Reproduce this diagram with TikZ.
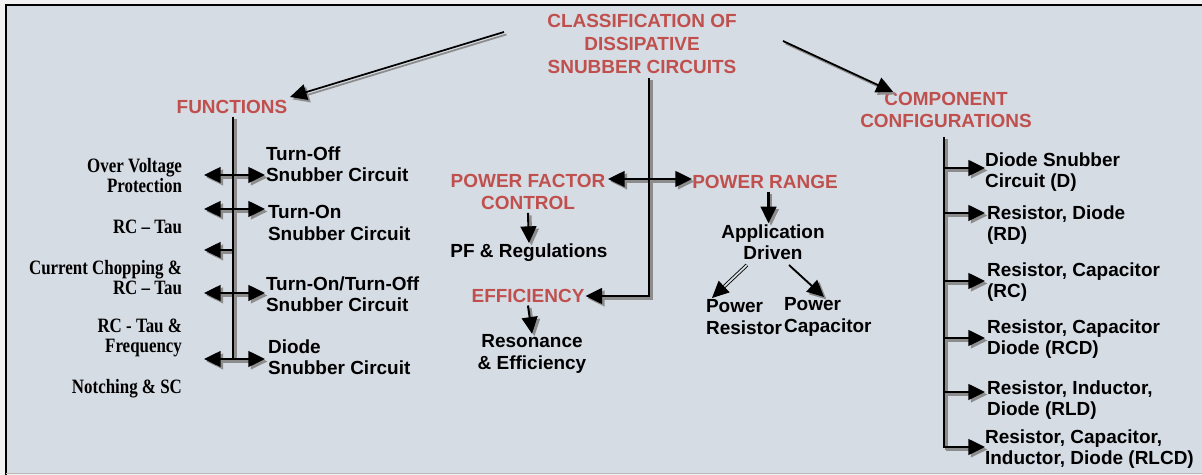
\documentclass[tikz,border=0pt]{standalone}
\usepackage{fontspec}
\setmainfont{Liberation Sans}
\newfontfamily\cambfont[FakeStretch=0.83]{Liberation Serif}
\usetikzlibrary{arrows.meta}
\definecolor{panel}{HTML}{D6DCE4}
\definecolor{headred}{HTML}{C0504D}
\colorlet{linkcol}{black}

\newcommand\drawlinks{%
  \draw[link,->,line width=1pt] (tl) -- (ftip);
  \draw[link,->,line width=1pt] (tr) -- (ctip);
  \draw[link,->] (ttop) |- ([xshift=-1pt]eff.east);
  \draw[link,<->] (pfl) -- (prl);
  \draw[link,->] (pfc.south) -- (pfreg.north);
  \draw[link,->] (eff.south) -- (reson.north);
  \draw[link,->] ([xshift=2pt]prange.south) -- ([xshift=2pt]prange.south |- appl.north);
  \draw[link,->,line width=1pt] (ar) -- (ctip2);
  \draw[link] (ftop) -- (fbot);
  \foreach \k in {a,b,c,d}{\draw[link,<->] (fl\k) -- (fr\k);}
  \draw[link,->] (fmid) -- (fle);
  \draw[link] (ctop) -- (cbot);
  \foreach \k in {a,b,c,d,e,f}{\draw[link,->] (cs\k) -- (ce\k);}
}

\begin{document}
\begin{tikzpicture}[x=0.02cm,y=-0.02cm,>={Triangle[length=9.5pt,width=9pt]},line width=1.2pt,
  head/.style={text=headred,font=\bfseries\fontsize{10.8}{13}\selectfont,align=center,inner sep=1pt},
  item/.style={font=\bfseries\fontsize{10.8}{12.2}\selectfont,align=left,inner sep=0pt},
  cause/.style={font=\cambfont\bfseries\fontsize{11.6}{11.4}\selectfont,align=right,inner sep=0pt,anchor=east},
  link/.style={draw=linkcol}]
\useasboundingbox (0,0) rectangle (1202,475);
\fill[gray!10] (0,0) rectangle (1202,475);
\fill[panel] (6,6) rectangle (1202,473);
\draw[line width=1.6pt] (6,475) -- (6,5) -- (1202,5);
\draw[gray!55,line width=0.8pt] (6,473.5) -- (1202,473.5);

\node[head] (title) at (642,44) {CLASSIFICATION OF\\DISSIPATIVE\\SNUBBER CIRCUITS};
\node[head] (func) at (232,107) {FUNCTIONS};
\node[head] (comp) at (946,110) {COMPONENT\\CONFIGURATIONS};
\node[head] (pfc) at (528,192) {POWER FACTOR\\CONTROL};
\node[head] (prange) at (765,182) {POWER RANGE};
\node[head] (eff) at (528,296) {EFFICIENCY};

\node[item,align=center] (pfreg) at (529,253) {PF \& Regulations};
\node[item,align=center] (reson) at (532,354) {Resonance\\\& Efficiency};
\node[item,align=center] (appl) at (773,242) {Application\\Driven};
\node[item,anchor=west] (pres) at (705,317) {Power\\Resistor};
\node[item,anchor=west] (pcap) at (783,317) {Power\\Capacitor};

\node[item,anchor=west] (toff) at (265,164) {Turn-Off\\Snubber Circuit};
\node[item,anchor=west] (ton) at (267,223) {Turn-On\\Snubber Circuit};
\node[item,anchor=west] (tonoff) at (265,294) {Turn-On/Turn-Off\\Snubber Circuit};
\node[item,anchor=west] (dsn) at (267,357) {Diode\\Snubber Circuit};

\node[cause] (ovp) at (183,176) {Over Voltage\\Protection};
\node[cause] (rct) at (183,227) {RC – Tau};
\node[cause] (cch) at (183,278) {Current Chopping \&\\RC – Tau};
\node[cause] (rcf) at (183,338) {RC - Tau \&\\Frequency};
\node[cause] (notch) at (183,389) {Notching \& SC};

\node[item,anchor=west] (cd) at (984,172) {Diode Snubber\\Circuit (D)};
\node[item,anchor=west] (crd) at (986,225) {Resistor, Diode\\(RD)};
\node[item,anchor=west] (crc) at (986,282) {Resistor, Capacitor\\(RC)};
\node[item,anchor=west] (crcd) at (986,339) {Resistor, Capacitor\\Diode (RCD)};
\node[item,anchor=west] (crld) at (986,400) {Resistor, Inductor,\\Diode (RLD)};
\node[item,anchor=west] (crlcd) at (984,449) {Resistor, Capacitor,\\Inductor, Diode (RLCD)};

\coordinate (tl) at (504,32);
\coordinate (tr) at (783,41);
\coordinate (ftip) at (290,97);
\coordinate (ctip) at (893,92);
\coordinate (ttop) at (649,78);
\coordinate (pfl) at (608,179);
\coordinate (prl) at (692,179);
\coordinate (al) at (747,265);
\coordinate (ar) at (789,265);
\coordinate (rtip) at (712,298);
\coordinate (ctip2) at (824,297);
\coordinate (ftop) at (233,117);
\coordinate (fbot) at (233,360);
\foreach \y/\k in {175/a,209/b,293/c,359/d}{
  \coordinate (fl\k) at (204,\y);
  \coordinate (fr\k) at (265,\y);
}
\coordinate (fmid) at (233,250);
\coordinate (fle) at (204,250);
\coordinate (ctop) at (944,137);
\coordinate (cbot) at (944,448);
\foreach \y/\k in {168/a,213/b,281/c,338/d,392/e,447/f}{
  \coordinate (cs\k) at (944,\y);
  \coordinate (ce\k) at (985,\y);
}

\begin{scope}[transform canvas={xshift=1.4pt,yshift=-1.4pt}]
  \colorlet{linkcol}{black!45}
  \drawlinks
\end{scope}
\drawlinks
\draw[->,line width=0.5pt,double=panel,double distance=1pt] (al) -- (rtip);
\end{tikzpicture}
\end{document}
